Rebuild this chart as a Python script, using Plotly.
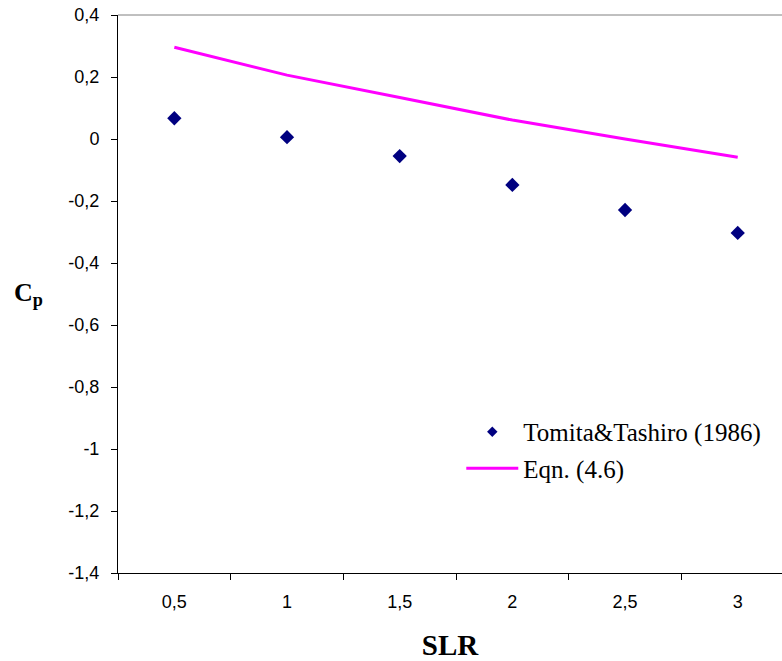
import plotly.graph_objects as go

categories = ["0,5", "1", "1,5", "2", "2,5", "3"]
tomita_cp = [0.067, 0.006, -0.055, -0.148, -0.229, -0.303]
eqn_cp = [0.296, 0.206, 0.134, 0.061, 0.000, -0.059]
y_tick_vals = [0.4, 0.2, 0, -0.2, -0.4, -0.6, -0.8, -1.0, -1.2, -1.4]
y_tick_text = ["0,4", "0,2", "0", "-0,2", "-0,4", "-0,6", "-0,8", "-1", "-1,2", "-1,4"]
series_names = ["Tomita&Tashiro (1986)", "Eqn. (4.6)"]

xpos = list(range(len(categories)))
boundaries = [i - 0.5 for i in range(len(categories) + 1)]

NAVY = "#000080"
MAGENTA = "#FF00FF"

fig = go.Figure()
fig.add_trace(go.Scatter(
    x=xpos, y=tomita_cp, mode="markers", name=series_names[0], showlegend=False,
    marker=dict(symbol="diamond", size=11, color=NAVY),
))
fig.add_trace(go.Scatter(
    x=xpos, y=eqn_cp, mode="lines", name=series_names[1], showlegend=False,
    line=dict(color=MAGENTA, width=3),
))
# legend entries (Excel-style smaller legend marker)
fig.add_trace(go.Scatter(
    x=[None], y=[None], mode="markers", name=series_names[0], legendgroup="a",
    marker=dict(symbol="diamond", size=8, color=NAVY),
))
fig.add_trace(go.Scatter(
    x=[None], y=[None], mode="lines", name=series_names[1], legendgroup="b",
    line=dict(color=MAGENTA, width=3),
))

fig.update_layout(
    width=782, height=661,
    margin=dict(l=118, r=0, t=15, b=88),
    paper_bgcolor="white", plot_bgcolor="white",
    showlegend=True,
    legend=dict(
        x=0.517, y=0.294, xanchor="left", yanchor="top",
        font=dict(family="Liberation Serif", size=25, color="black"),
        bgcolor="rgba(0,0,0,0)", itemwidth=52, tracegroupgap=1,
    ),
    xaxis=dict(
        range=[-0.5, 5.393], automargin=False,
        tickmode="array", tickvals=xpos, ticktext=categories,
        ticks="", showgrid=False, zeroline=False,
        showline=True, linecolor="black", linewidth=1,
        tickfont=dict(family="Liberation Sans", size=18, color="black"),
        ticklabelstandoff=12,
        minor=dict(tickmode="array", tickvals=boundaries, ticks="outside",
                   ticklen=6, tickcolor="black", showgrid=False),
        title=dict(text="<b>SLR</b>", font=dict(family="Liberation Serif", size=29, color="black"),
                   standoff=31),
    ),
    yaxis=dict(
        range=[-1.4, 0.4], automargin=False,
        tickmode="array", tickvals=y_tick_vals, ticktext=y_tick_text,
        ticks="outside", ticklen=6, tickcolor="black",
        showgrid=False, zeroline=False,
        showline=True, linecolor="black", linewidth=1,
        tickfont=dict(family="Liberation Sans", size=18, color="black"),
        ticklabelstandoff=8,
    ),
    annotations=[dict(
        text="<b>C<sub>p</sub></b>", xref="paper", yref="paper",
        x=-0.135, y=0.5, xanchor="center", yanchor="middle", showarrow=False,
        font=dict(family="Liberation Serif", size=26, color="black"),
    )],
    shapes=[dict(type="line", xref="paper", yref="paper", x0=0, x1=1, y0=1, y1=1,
                 line=dict(color="#808080", width=1))],
)

fig.write_html("out.html")
